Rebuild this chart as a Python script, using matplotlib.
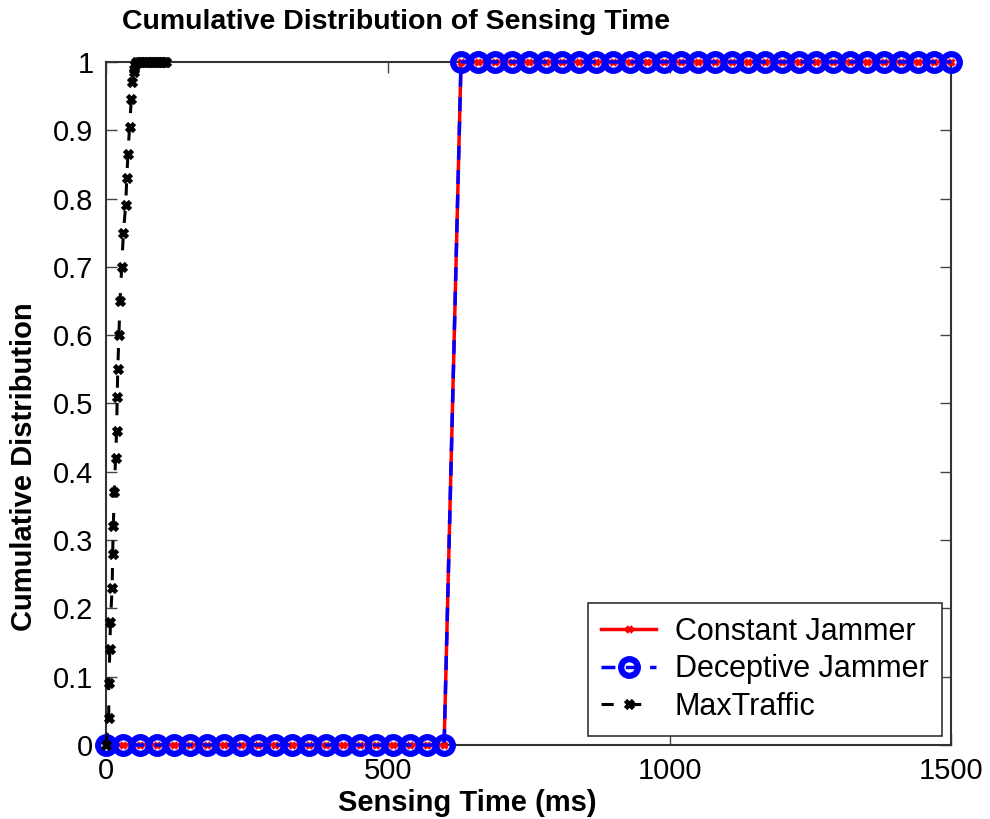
import matplotlib
matplotlib.use("Agg")
import matplotlib.pyplot as plt

plt.rcParams['font.family'] = ['Liberation Sans', 'DejaVu Sans']

# Jammer sensing times (ms) and their CDF
jam_time = [0, 30, 60, 90, 120, 150, 180, 210, 240, 270, 300, 330, 360, 390, 420,
            450, 480, 510, 540, 570, 600, 630, 660, 690, 720, 750, 780, 810, 840,
            870, 900, 930, 960, 990, 1020, 1050, 1080, 1110, 1140, 1170, 1200,
            1230, 1260, 1290, 1320, 1350, 1380, 1410, 1440, 1470, 1500]
constant_cdf = [0, 0, 0, 0, 0, 0, 0, 0, 0, 0, 0, 0, 0, 0, 0, 0, 0, 0, 0, 0, 0,
                1, 1, 1, 1, 1, 1, 1, 1, 1, 1, 1, 1, 1, 1, 1, 1, 1, 1, 1, 1,
                1, 1, 1, 1, 1, 1, 1, 1, 1, 1]
deceptive_cdf = [0, 0, 0, 0, 0, 0, 0, 0, 0, 0, 0, 0, 0, 0, 0, 0, 0, 0, 0, 0, 0,
                 1, 1, 1, 1, 1, 1, 1, 1, 1, 1, 1, 1, 1, 1, 1, 1, 1, 1, 1, 1,
                 1, 1, 1, 1, 1, 1, 1, 1, 1, 1]

# MaxTraffic sensing times (ms) and CDF
mt_time = [0, 5, 5, 7, 8, 11, 12, 13, 15, 17, 19, 20, 21, 23, 25, 28, 31, 35, 37,
           39, 42, 45, 47, 49, 50, 52, 54, 57, 60, 63, 66, 69, 72, 75, 78, 81, 84,
           87, 90, 93, 96, 99, 102, 105, 107]
mt_cdf = [0, 0.04, 0.09, 0.14, 0.18, 0.23, 0.28, 0.32, 0.37, 0.42, 0.46, 0.51,
          0.55, 0.60, 0.65, 0.70, 0.75, 0.79, 0.83, 0.865, 0.905, 0.945, 0.97,
          0.985, 0.99, 0.995, 1, 1, 1, 1, 1, 1, 1, 1, 1, 1, 1, 1, 1, 1, 1, 1, 1, 1, 1]

x_ticks = [0, 500, 1000, 1500]
y_ticks = [0, 0.1, 0.2, 0.3, 0.4, 0.5, 0.6, 0.7, 0.8, 0.9, 1]
y_ticklabels = ['0', '0.1', '0.2', '0.3', '0.4', '0.5', '0.6', '0.7', '0.8', '0.9', '1']

fig = plt.figure(figsize=(9.9, 8.19), dpi=100)
ax = fig.add_axes([0.107, 0.0904, 0.854, 0.834])

ax.plot(jam_time, constant_cdf, '-', color='red', lw=2.5, marker='x', ms=5,
        mew=2.5, mec='red', label='Constant Jammer', clip_on=False, zorder=3)
ax.plot(jam_time, deceptive_cdf, '--', color='blue', lw=2.5, marker='o', ms=12,
        mew=4.5, mec='blue', mfc='none', dashes=(4, 3), label='Deceptive Jammer',
        clip_on=False, zorder=4)
ax.plot(mt_time, mt_cdf, '--', color='black', lw=2.2, marker='x', ms=6,
        mew=3.4, dashes=(4, 5), label='MaxTraffic', clip_on=False, zorder=5)

ax.set_xlim(0, 1500)
ax.set_ylim(0, 1)
ax.set_xticks(x_ticks)
ax.set_xticklabels([str(t) for t in x_ticks])
ax.set_yticks(y_ticks)
ax.set_yticklabels(y_ticklabels)
ax.tick_params(direction='in', length=8, width=1, top=True, right=True,
               labelsize=21, pad=9, colors='#444444', labelcolor='black')
for s in ax.spines.values():
    s.set_linewidth(1.5)
    s.set_color('#333333')

leg = ax.legend(loc='lower right', fontsize=22, handlelength=1.8,
                handletextpad=0.6, labelspacing=0.25, borderpad=0.45,
                borderaxespad=0.3, fancybox=False, framealpha=1,
                edgecolor='#333333')
leg.get_frame().set_linewidth(1.2)
leg.set_zorder(10)

fig.text(122 / 990, 1 - 22 / 819, 'Cumulative Distribution of Sensing Time',
         fontsize=20.5, fontweight='bold', ha='left', va='center')
fig.text(467 / 990, 1 - 803 / 819, 'Sensing Time (ms)', fontsize=21,
         fontweight='bold', ha='center', va='center')
fig.text(24 / 990, 1 - 467 / 819, 'Cumulative Distribution', fontsize=21,
         fontweight='bold', ha='center', va='center', rotation=90)

fig.savefig('out.png', dpi=100)
